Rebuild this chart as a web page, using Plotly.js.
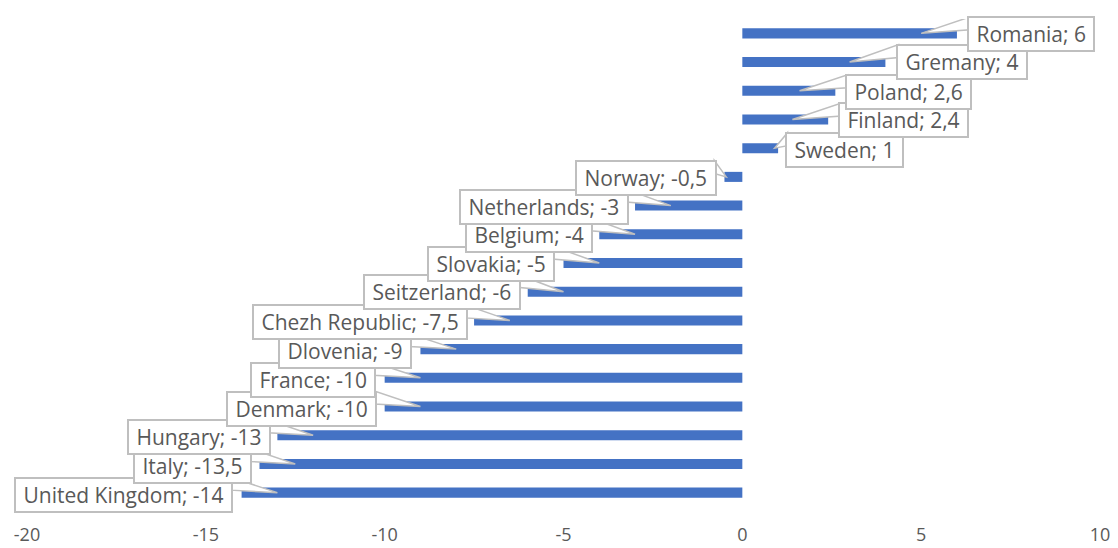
<!DOCTYPE html>
<html>
<head>
<meta charset="utf-8">
<script src="https://cdn.plot.ly/plotly-3.0.1.min.js"></script>
<style>
  html, body { margin: 0; padding: 0; background: #ffffff; }
  #chart { width: 1118px; height: 548px; }
</style>
</head>
<body>
<div id="chart"></div>
<script>
// Countries, listed from the top bar to the bottom bar
const countries = [
  "Romania", "Gremany", "Poland", "Finland", "Sweden", "Norway",
  "Netherlands", "Belgium", "Slovakia", "Seitzerland", "Chezh Republic",
  "Dlovenia", "France", "Denmark", "Hungary", "Italy", "United Kingdom"
];
const values = [6, 4, 2.6, 2.4, 1, -0.5, -3, -4, -5, -6, -7.5, -9, -10, -10, -13, -13.5, -14];

const xTicks = [-20, -15, -10, -5, 0, 5, 10];

// Callout layout: pixel gap from the pointer tip to the near edge of the box,
// and how far (px, downward) the box centre sits below the bar centre.
const calloutGap = [46, 46, 45, 46, 10, -9, -42, -42, -44, -43, -42, -44, -44, -43, -42, -43, -44];
const calloutDrop = [1, 0, 1.5, 1, 2, 1, 1, 1, 0.5, 0, 2, 2, 2, 2, 2, 2, 2];

const BAR_COLOR = "#4472C4";
const TEXT_COLOR = "#595959";
const BOX_LINE = "#BFBFBF";
const FONT = "'Open Sans', 'Noto Sans', sans-serif";
const BOX_H = 37;      // approximate rendered callout height (px)
const WEDGE_BASE = 13; // height of the pointer where it meets the box (px)

function fmt(v) {
  return String(v).replace(".", ",");
}

const annotations = [];
const shapes = [];

// Draw bottom callouts first so the upper ones overlap them.
for (let i = countries.length - 1; i >= 0; i--) {
  const v = values[i];
  const sgn = v >= 0 ? 1 : -1;
  // pointer tip sits one unit inside long bars, at the end of short ones
  const tip = Math.abs(v) > 1.5 ? v - sgn * 1 : v * 0.9;
  const gap = calloutGap[i];
  const drop = calloutDrop[i];

  // pointer wedge (pixel offsets from the tip, y pointing up)
  const top = BOX_H / 2 - drop - 1;
  const bx = gap + sgn * 3;
  shapes.push({
    type: "path",
    xref: "x", yref: "y",
    xsizemode: "pixel", ysizemode: "pixel",
    xanchor: tip, yanchor: countries[i],
    path: `M0,0 L${bx},${top} L${bx},${top - WEDGE_BASE} Z`,
    fillcolor: "#ffffff",
    line: { color: BOX_LINE, width: 1.5 },
    layer: "above"
  });

  annotations.push({
    x: tip, y: countries[i],
    xref: "x", yref: "y",
    text: "\u00a0" + countries[i] + "; " + fmt(v) + "\u00a0",
    showarrow: false,
    xanchor: v >= 0 ? "left" : "right",
    yanchor: "middle",
    xshift: gap,
    yshift: -drop,
    bgcolor: "#ffffff",
    bordercolor: BOX_LINE,
    borderwidth: 2,
    borderpad: 2,
    font: { family: FONT, size: 21, color: TEXT_COLOR }
  });
}

const trace = {
  type: "bar",
  orientation: "h",
  x: values,
  y: countries,
  width: 0.35,
  marker: { color: BAR_COLOR },
  hoverinfo: "skip"
};

const layout = {
  width: 1118,
  height: 548,
  margin: { l: 27, r: 18, t: 19, b: 41 },
  paper_bgcolor: "#ffffff",
  plot_bgcolor: "#ffffff",
  showlegend: false,
  xaxis: {
    range: [-20, 10],
    autorange: false,
    tickvals: xTicks,
    ticktext: xTicks.map(String),
    showgrid: false,
    zeroline: false,
    showline: false,
    ticks: "outside",
    ticklen: 11,
    tickcolor: "rgba(0,0,0,0)",
    tickfont: { family: FONT, size: 18, color: TEXT_COLOR }
  },
  yaxis: {
    type: "category",
    categoryorder: "array",
    categoryarray: countries,
    range: [countries.length - 0.5, -0.5],
    autorange: false,
    showticklabels: false,
    showgrid: false,
    zeroline: false,
    showline: false,
    ticks: ""
  },
  shapes: shapes,
  annotations: annotations
};

Plotly.newPlot("chart", [trace], layout, { displayModeBar: false, staticPlot: true });
</script>
</body>
</html>
